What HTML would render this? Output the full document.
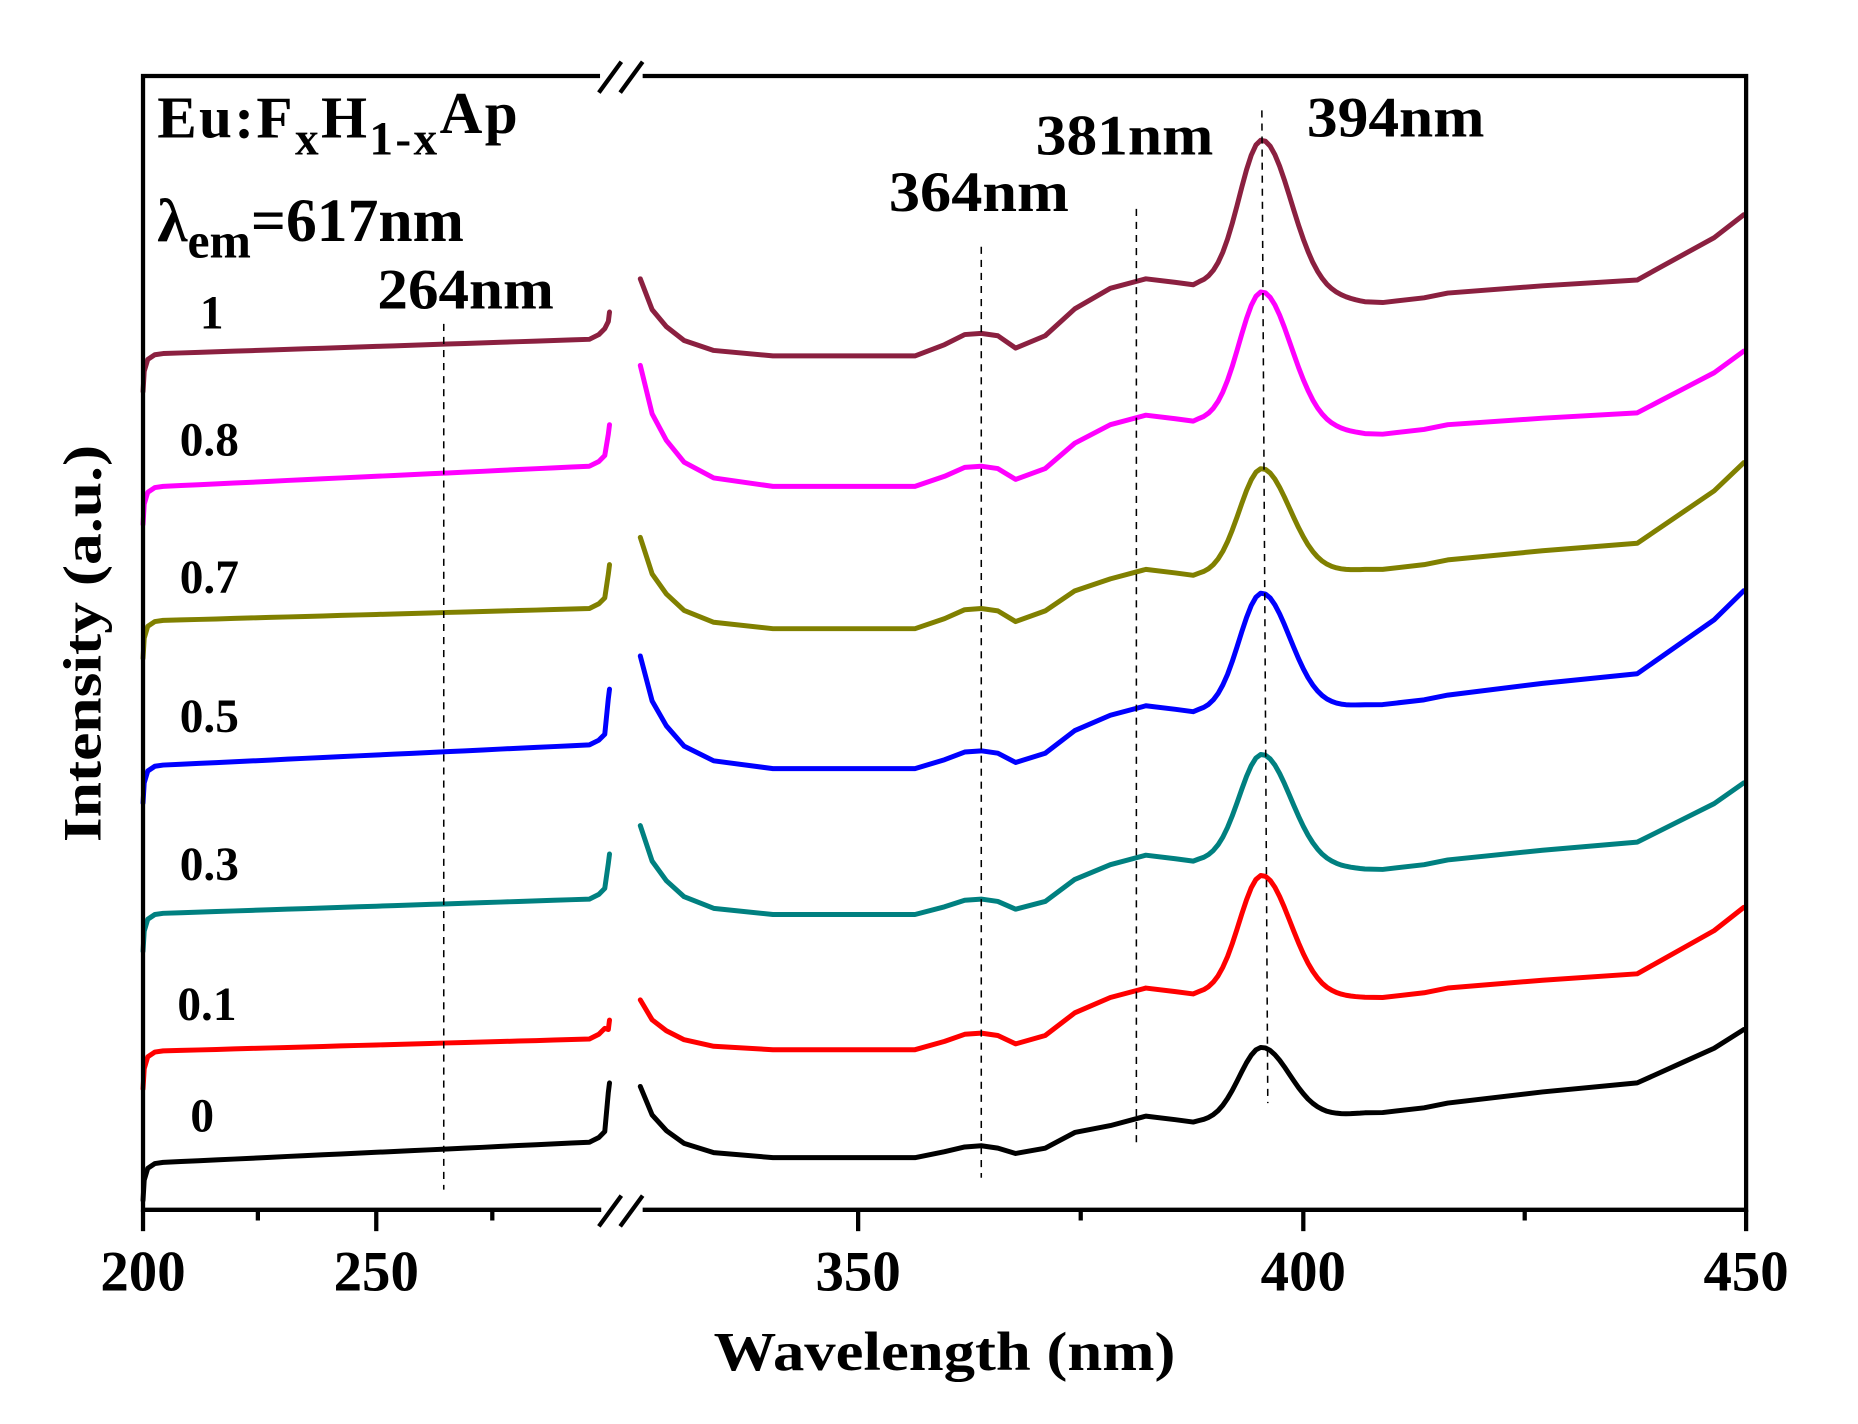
<!DOCTYPE html>
<html><head><meta charset="utf-8"><style>
html,body{margin:0;padding:0;background:#fff;overflow:hidden;width:1858px;height:1424px;}
svg{display:block;}
text{font-family:"Liberation Serif",serif;font-weight:bold;fill:#000;}
</style></head><body>
<svg id="s" width="1858" height="1424" viewBox="-2.8 1.9 1569.3 1200.7" preserveAspectRatio="none" xmlns="http://www.w3.org/2000/svg">
<rect x="-2.8" y="1.9" width="1569.3" height="1200.7" fill="#fff"/>
<g id="curves" fill="none" stroke-width="4.2" stroke-linejoin="round" stroke-linecap="round"></g>
<g stroke="#000" stroke-width="1.3" stroke-dasharray="6,5" fill="none">
<line x1="372" y1="275" x2="372" y2="1005"/>
<line x1="826" y1="210" x2="826" y2="995"/>
<line x1="957" y1="178" x2="957" y2="970"/>
<line x1="1063" y1="95" x2="1068" y2="932"/>
</g>
<g stroke="#000" stroke-width="3.6" fill="none">
<polyline points="504,66 118,66 118,1022 505,1022"/>
<polyline points="540,66 1472,66 1472,1022 540,1022"/>
<line x1="118" y1="1022" x2="118" y2="1040"/>
<line x1="315" y1="1022" x2="315" y2="1040"/>
<line x1="722" y1="1022" x2="722" y2="1040"/>
<line x1="1098" y1="1022" x2="1098" y2="1040"/>
<line x1="1472" y1="1022" x2="1472" y2="1040"/>
<line x1="215" y1="1022" x2="215" y2="1031"/>
<line x1="413" y1="1022" x2="413" y2="1031"/>
<line x1="910" y1="1022" x2="910" y2="1031"/>
<line x1="1285" y1="1022" x2="1285" y2="1031"/>
<line x1="503" y1="80" x2="522" y2="54"/>
<line x1="521" y1="80" x2="540" y2="54"/>
<line x1="503" y1="1036" x2="522" y2="1010"/>
<line x1="521" y1="1036" x2="540" y2="1010"/>
</g>
<g font-size="48" text-anchor="middle">
<text x="118" y="1090">200</text>
<text x="315" y="1090">250</text>
<text x="722" y="1090">350</text>
<text x="1098" y="1090">400</text>
<text x="1472" y="1090">450</text>
</g>
<text x="600" y="1157" font-size="46" textLength="390" lengthAdjust="spacingAndGlyphs">Wavelength (nm)</text>
<text transform="translate(82,712) rotate(-90)" font-size="46" textLength="335" lengthAdjust="spacingAndGlyphs">Intensity (a.u.)</text>
<g font-size="40">
<text x="166" y="279">1</text>
<text x="149" y="386">0.8</text>
<text x="149" y="502">0.7</text>
<text x="149" y="619">0.5</text>
<text x="149" y="744">0.3</text>
<text x="147" y="862">0.1</text>
<text x="158" y="956">0</text>
</g>
<g font-size="48">
<text x="316" y="262" textLength="149" lengthAdjust="spacingAndGlyphs">264nm</text>
<text x="748" y="180" textLength="152" lengthAdjust="spacingAndGlyphs">364nm</text>
<text x="872" y="132" textLength="150" lengthAdjust="spacingAndGlyphs">381nm</text>
<text x="1101" y="117" textLength="150" lengthAdjust="spacingAndGlyphs">394nm</text>
</g>
<text x="130" y="118" font-size="50" letter-spacing="2">Eu:F<tspan font-size="40" dy="14">x</tspan><tspan font-size="50" dy="-14">H</tspan><tspan font-size="40" dy="14">1-x</tspan><tspan font-size="50" dy="-18">Ap</tspan></text>
<text x="130" y="205" font-size="52">λ<tspan font-size="42" dy="14">em</tspan><tspan dy="-14">=617nm</tspan></text>
</svg>
<script>
var S=[
 {c:"#8B2040",b:300,b2:288,sp:265,st:237,M:302,B:283,Sh:237,P:120,Mn:257,L:238,E:183},
 {c:"#FF00FF",b:412,b2:395,sp:360,st:310,M:412,B:395,Sh:352,P:248,Mn:368,L:350,E:298},
 {c:"#808000",b:525,b2:515,sp:478,st:455,M:532,B:515,Sh:482,P:397,Mn:482,L:460,E:392},
 {c:"#0000FF",b:647,b2:630,sp:583,st:555,M:650,B:635,Sh:597,P:502,Mn:596,L:570,E:500},
 {c:"#008080",b:772,b2:760,sp:722,st:698,M:773,B:760,Sh:723,P:638,Mn:735,L:712,E:662},
 {c:"#FF0000",b:888,b2:878,sp:862,st:845,M:887,B:873,Sh:835,P:740,Mn:843,L:823,E:767},
 {c:"#000000",b:982,b2:965,sp:915,st:918,M:978,B:968,Sh:943,P:885,Mn:940,L:915,E:870}
];
var g=document.getElementById("curves"),ns="http://www.w3.org/2000/svg";
function pl(pts,c){var p=document.createElementNS(ns,"polyline");p.setAttribute("points",pts.map(function(a){return a[0]+","+a[1].toFixed(1)}).join(" "));p.setAttribute("stroke",c);g.appendChild(p);}
S.forEach(function(s){
 var L=[[118,s.b+32],[119,s.b+15],[122,s.b+5],[128,s.b+1],[135,s.b]];
 for(var x=150;x<=495;x+=15){L.push([x,s.b+(s.b2-s.b)*(x-135)/360]);}
 L.push([503,s.b2-4],[508,s.b2-9],[511,s.sp+8],[512,s.sp]);
 pl(L,s.c);
 var M=s.M,B=s.B,Sh=s.Sh,P=s.P,Mn=s.Mn,Lv=s.L,E=s.E,st=s.st;
 var R=[[538,st],[548,st+0.4*(M-st)],[560,st+0.62*(M-st)],[575,st+0.8*(M-st)],[600,st+0.93*(M-st)],[650,M],[770,M],
 [795,M-0.5*(M-B)],[812,B+1],[826,B],[840,B+2],[855,M-0.35*(M-B)],[880,B+2],[905,B-0.45*(B-Sh)],[935,Sh+8],[965,Sh],[990,Sh+3],[1005,Sh+5]];
 for(var x=1010;x<=1150;x+=4){var w=x<1063?27:34;var base=x<1063?(Sh+5):(Sh+5+(Mn-Sh-5)*Math.min(1,(x-1063)/90));R.push([x,base-(base-P)*Math.exp(-Math.pow((x-1063)/w,2))]);}
 R.push([1165,Mn],[1200,Mn-4],[1220,Mn-8],[1300,Mn-8+(Lv-Mn+8)*0.55],[1380,Lv],[1400,Lv-0.2*(Lv-E)],[1420,Lv-0.4*(Lv-E)],[1445,Lv-0.65*(Lv-E)],[1470,E]);
 pl(R,s.c);
});
</script>
</body></html>
